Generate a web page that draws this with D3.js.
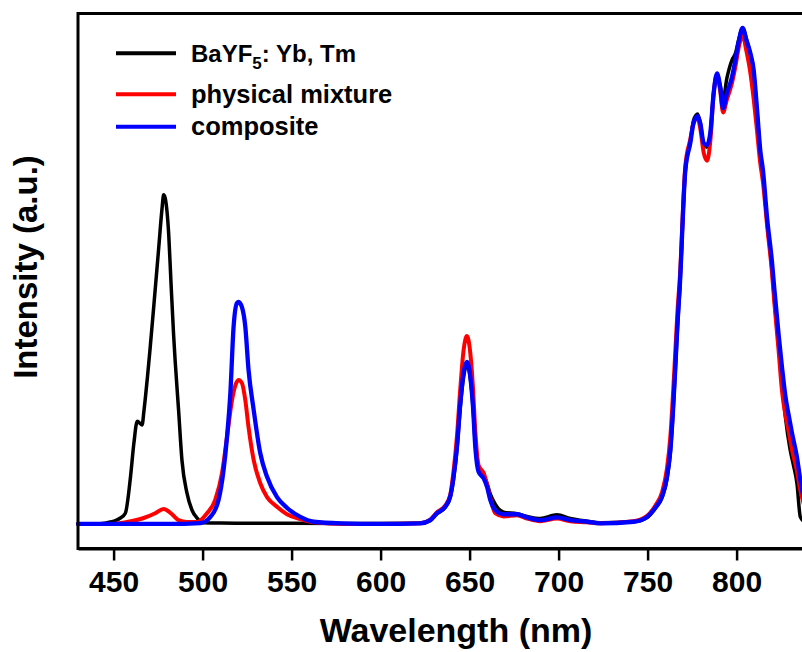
<!DOCTYPE html>
<html>
<head>
<meta charset="utf-8">
<script src="https://cdn.jsdelivr.net/npm/d3@7"></script>
<style>
  html, body { margin: 0; padding: 0; background: #fff; }
  svg { display: block; }
</style>
</head>
<body>
<svg id="chart" width="802" height="652"></svg>
<script>
// ---- data (wavelength nm, intensity a.u.) ----
const seriesNames = ["BaYF5: Yb, Tm", "physical mixture", "composite"];
const xTicks = [450, 500, 550, 600, 650, 700, 750, 800];

const bayfData = [
  [430,4.6],[440,4.6],[445,4.7],[448,4.95],[451,5.2],[453.8,5.7],[456.6,6.6],
  [459.5,13.4],[461.4,19.7],[463.3,23.8],[466,23.1],[467.1,25.9],[469,32],
  [470.4,37],[472.5,45],[475.3,56],[477.2,63.5],[478.1,66.1],[479,65.5],[480,63],
  [481,58.5],[482.2,50],[483.7,40],[484.6,35],[486.5,25.9],[488.4,16.5],[491.2,10.4],
  [494,7.2],[496.9,5.7],[500.4,4.8],[510,4.75],[550,4.7],[600,4.65],[622.3,4.7],
  [627.9,5.2],[631.7,6.5],[636.3,7.7],[639.1,9.5],[641,13],[642.9,18.5],[644.8,26.5],
  [646.6,32],[648.5,34.3],[650.4,31.8],[651.9,26.5],[653.2,19.5],[655.1,15],
  [657.9,13.6],[659.8,12.2],[661.6,10.2],[664.4,8.3],[669.1,6.8],[676.6,6.5],
  [682.3,6.0],[689.7,5.6],[699.1,6.3],[706.6,5.6],[716,5.1],[723.4,4.8],[742.1,5.0],
  [749.7,5.8],[754.3,7.5],[758.1,9.5],[760.9,13],[762.8,18],[764.3,25.5],[765.6,33.5],
  [766.9,42],[768,48],[771.2,70.5],[774,76],[775.8,80],[778.1,81.2],[779.6,79.5],
  [781.5,75.5],[783.4,75],[785.2,77.5],[787.1,85],[789,88.5],[790.8,86.5],[792.4,84],
  [794.6,88],[797.4,91.3],[799.3,92.5],[801.1,95],[803.4,97.3],[805.5,95.3],
  [807.7,92.5],[809.6,89],[811.5,81.5],[813.3,74],[814.8,70],[817.1,61],[819.9,52],
  [821.2,46.5],[823.6,38],[825.5,31],[827.4,24.6],[830.1,18.4],[832,15.5],
  [833.9,12.2],[835.8,5.9],[838,5]
];

const mixtureData = [
  [430,4.6],[450,4.6],[457.5,4.95],[466.9,5.7],[473.4,6.6],[478.1,7.4],[482.8,6.4],
  [486.5,5.3],[491.2,4.95],[496.9,4.95],[502.5,6.6],[507.1,9.1],[510.9,14.1],
  [513.7,20.8],[516.5,27.7],[518.4,30.5],[520.2,31.5],[522.1,30.9],[524,27.7],
  [525.8,22.7],[528.7,16.5],[532.4,12.2],[536.2,9.6],[541.8,7.8],[547.4,6.4],
  [554.9,5.5],[562.4,4.9],[580,4.6],[600,4.6],[622.3,4.7],
  [627.9,5.4],[631.7,6.8],[636.3,8.0],[639.1,10],[641,14.5],[642.9,21],[644.8,30],
  [646.6,37],[648.5,39.7],[650.4,36.5],[651.9,30],[653.2,22],[655.1,15.5],
  [657.9,14.1],[659.8,12],[661.6,9.5],[664.4,6.6],[669.1,6.0],[676.6,6.2],
  [682.3,5.6],[689.7,5.1],[699.1,5.6],[706.6,5.1],[716,4.9],[723.4,4.7],[742.1,5.1],
  [749.7,6.1],[754.3,8.0],[758.1,10.5],[760.9,15],[762.8,21],[764.3,29],[765.6,37],
  [766.9,45],[768,50],[771.2,71.5],[774,76.5],[775.8,79.5],[778.1,80.5],[779.6,78.5],
  [781.5,74],[783.4,72.5],[785.2,76],[787.1,85],[789,88.5],[790.8,85.5],[792.4,81.5],
  [794.6,84],[797.4,87],[799.3,90],[801.1,93.5],[803.4,95.9],[805.5,93],[807.7,89],
  [809.6,84],[811.5,78],[813.3,72],[814.8,68.5],[817.1,60.5],[819.9,51.5],[821.2,46],
  [823.6,37],[825.5,29.5],[827.4,25],[829.2,22],[831.1,18.5],[833.9,14.5],
  [835.8,10.9],[838,8]
];

const compositeData = [
  [430,4.6],[450,4.6],[480,4.6],[498.8,4.76],[504.4,5.9],[509,9.1],[511.8,14.7],
  [513.7,20.8],[515.6,29.1],[517.4,41.4],[519.3,45.9],[520.2,46.1],[522.1,45.1],
  [524,41.4],[525.8,33.4],[528.7,25.9],[532.4,17.8],[536.2,13.4],[541.8,9.6],
  [547.4,7.6],[554.9,5.9],[562.4,5.0],[577.4,4.7],[600,4.6],[622.3,4.7],
  [627.9,5.3],[631.7,6.6],[636.3,7.8],[639.1,9.7],[641,13.4],[642.9,19.0],
  [644.8,27.2],[646.6,32.8],[648.5,34.9],[650.4,32.1],[651.9,26.5],[653.2,19.0],
  [655.1,14.3],[657.9,13.1],[659.8,11.5],[661.6,9.1],[664.4,7.2],[669.1,6.4],
  [676.6,6.4],[682.3,5.8],[689.7,5.3],[699.1,5.8],[706.6,5.3],[716,5.0],[723.4,4.7],
  [742.1,5.0],[749.7,5.9],[754.3,7.6],[758.1,9.7],[760.9,13.4],[762.8,18.4],
  [764.3,25.9],[765.6,34.0],[766.9,42.7],[768,48.5],[771.2,70.7],[774,75.8],
  [775.8,79.5],[778.1,80.8],[779.6,79.5],[781.5,75.8],[783.4,75.4],[785.2,77.6],
  [787.1,85.1],[789,88.8],[790.8,86.2],[792.4,82.3],[794.6,85.1],[797.4,88.1],
  [799.3,91.3],[801.1,94.6],[803.4,97.3],[805.5,95.0],[807.7,92.6],[809.6,89.4],
  [811.5,82.0],[813.3,74.4],[814.8,70.7],[817.1,61.9],[819.9,53.5],[821.2,48.5],
  [823.6,40],[825.5,33.9],[827.4,28.5],[829.2,25.0],[831.1,21.6],[833.9,17.1],
  [835.8,12.8],[838,9]
];

const seriesColors = ["#000000", "#ff0000", "#0000ff"];
const seriesData = [bayfData, mixtureData, compositeData];

// ---- layout ----
const svg = d3.select("#chart");
const plotLeft = 78, plotTop = 13.5, plotBottom = 548.5;
const x = d3.scaleLinear().domain([430, 850]).range([plotLeft, plotLeft + 420 * 1.78]);
const y = d3.scaleLinear().domain([0, 100]).range([plotBottom, plotTop]);
const font = "'Liberation Sans', Arial, Helvetica, sans-serif";

// lines
const line = d3.line().x(d => x(d[0])).y(d => y(d[1])).curve(d3.curveMonotoneX);
const widths = [3.5, 4, 4.3];
seriesData.forEach((data, i) => {
  svg.append("path")
    .datum(data)
    .attr("fill", "none")
    .attr("stroke", seriesColors[i])
    .attr("stroke-width", widths[i])
    .attr("stroke-linejoin", "round")
    .attr("stroke-linecap", "round")
    .attr("d", line);
});

// frame
svg.append("rect")
  .attr("x", x.range()[0]).attr("y", plotTop)
  .attr("width", x.range()[1] - x.range()[0]).attr("height", plotBottom - plotTop)
  .attr("fill", "none").attr("stroke", "#000").attr("stroke-width", 3);

// x axis
const xAxis = svg.append("g")
  .attr("transform", `translate(0,${plotBottom})`)
  .call(d3.axisBottom(x).tickValues(xTicks).tickSize(12).tickSizeOuter(0).tickFormat(d3.format("d")));
xAxis.select(".domain").attr("stroke-width", 3);
xAxis.selectAll(".tick line").attr("stroke-width", 2.5);
xAxis.selectAll(".tick text")
  .attr("y", 43).attr("dy", 0)
  .attr("font-family", font).attr("font-weight", "bold").attr("font-size", 30)
  .attr("fill", "#000");

// axis titles
svg.append("text")
  .attr("x", 456).attr("y", 642)
  .attr("text-anchor", "middle")
  .attr("font-family", font).attr("font-weight", "bold").attr("font-size", 34)
  .text("Wavelength (nm)");

svg.append("text")
  .attr("transform", "translate(37,267) rotate(-90)")
  .attr("text-anchor", "middle")
  .attr("font-family", font).attr("font-weight", "bold").attr("font-size", 33)
  .text("Intensity (a.u.)");

// legend
const legendY = [53.3, 94.3, 126.7];
const legendSize = [24, 25.5, 25.5];
seriesNames.forEach((name, i) => {
  const g = svg.append("g");
  g.append("line")
    .attr("x1", 116).attr("x2", 176)
    .attr("y1", legendY[i]).attr("y2", legendY[i])
    .attr("stroke", seriesColors[i]).attr("stroke-width", 4);
  const t = g.append("text")
    .attr("x", 191).attr("y", legendY[i] + 8.5)
    .attr("font-family", font).attr("font-weight", "bold").attr("font-size", legendSize[i])
    .attr("fill", "#000");
  if (i === 0) {
    t.append("tspan").text("BaYF");
    t.append("tspan").attr("font-size", 17).attr("dy", 7).text("5");
    t.append("tspan").attr("dy", -7).text(": Yb, Tm");
  } else {
    t.text(name);
  }
});
</script>
</body>
</html>
